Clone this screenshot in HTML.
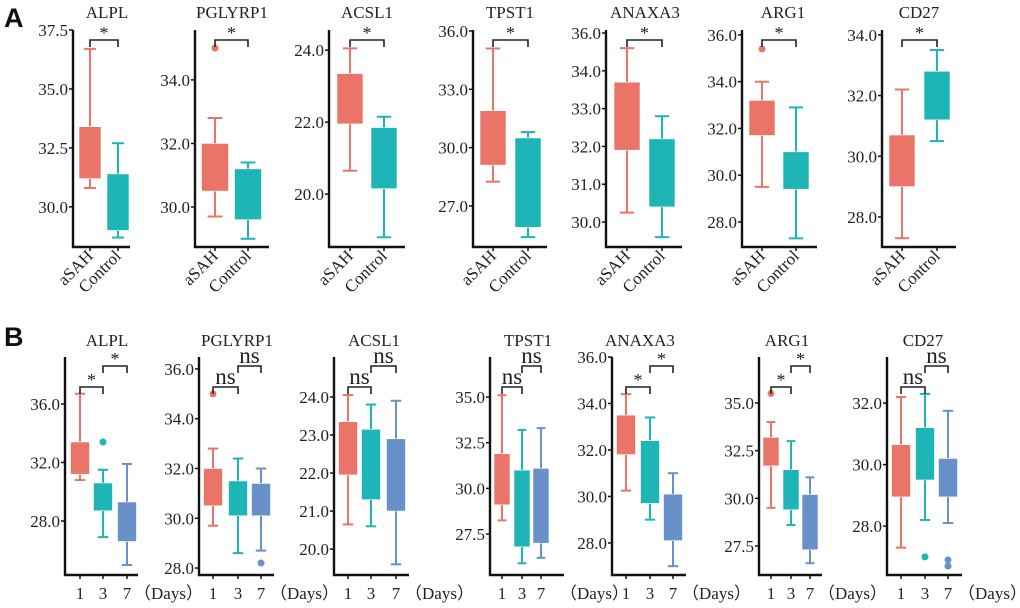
<!DOCTYPE html>
<html><head><meta charset="utf-8">
<style>
html,body{margin:0;padding:0;background:#fff;}
svg{display:block;}
text{font-family:"Liberation Serif",serif;fill:#222;}
</style></head>
<body>
<svg id="fig" width="1020" height="608" viewBox="0 0 1020 608" xmlns="http://www.w3.org/2000/svg">
<text x="4" y="27" font-family="Liberation Sans, sans-serif" style="font-family:'Liberation Sans',sans-serif;font-weight:bold;font-size:27px;fill:#111">A</text>
<text x="4" y="346" font-family="Liberation Sans, sans-serif" style="font-family:'Liberation Sans',sans-serif;font-weight:bold;font-size:27px;fill:#111">B</text>
</svg>
<script>
// ---------- DATA ----------
const genes = ['ALPL','PGLYRP1','ACSL1','TPST1','ANAXA3','ARG1','CD27'];
const groupsA = ['aSAH','Control'];
const groupsB = ['1','3','7'];
const aTickValues = [[37.5,35,32.5,30],[34,32,30],[24,22,20],[36,33,30,27],[35,34,33,32,31,30],[36,34,32,30,28],[34,32,30,28]];
const aTickLabels = [['37.5','35.0','32.5','30.0'],['34.0','32.0','30.0'],['24.0','22.0','20.0'],['36.0','33.0','30.0','27.0'],['36.0','34.0','33.0','32.0','31.0','30.0'],['36.0','34.0','32.0','30.0','28.0'],['34.0','32.0','30.0','28.0']];
const aDomain = [[28.30,37.5],[28.74,35.57],[18.53,24.56],[24.89,36.05],[29.34,35.08],[26.93,36.21],[27.01,34.16]];
const aWhiskerLow = [[30.8,28.7],[29.7,29.0],[20.65,18.8],[28.25,25.4],[30.25,29.6],[29.5,27.3],[27.3,30.5]];
const aQ1 = [[31.2,29.0],[30.5,29.6],[21.95,20.15],[29.1,25.9],[31.9,30.4],[31.7,29.4],[29.0,31.2]];
const aQ3 = [[33.4,31.4],[32.0,31.2],[23.35,21.85],[31.9,30.5],[33.7,32.2],[33.2,31.0],[30.7,32.8]];
const aWhiskerHigh = [[36.7,32.7],[32.8,31.4],[24.05,22.15],[35.1,30.8],[34.6,32.8],[34.0,32.9],[32.2,33.5]];
const aOutliers = [[[],[]],[[35.0],[]],[[],[]],[[],[]],[[],[]],[[35.4],[]],[[],[]]];
const aSig = ['*','*','*','*','*','*','*'];
const bTickValues = [[36,32,28],[36,34,32,30,28],[24,23,22,21,20],[35,32.5,30,27.5],[36,34,32,30,28],[35,32.5,30,27.5],[32,30,28]];
const bTickLabels = [['36.0','32.0','28.0'],['36.0','34.0','32.0','30.0','28.0'],['24.0','23.0','22.0','21.0','20.0'],['35.0','32.5','30.0','27.5'],['36.0','34.0','32.0','30.0','28.0'],['35.0','32.5','30.0','27.5'],['32.0','30.0','28.0']];
const bDomain = [[24.31,39.21],[27.72,36.48],[19.32,25.05],[25.26,37.19],[26.62,36.0],[25.98,37.41],[26.41,33.5]];
const bWhiskerLow = [[30.8,26.9,25.0],[29.7,28.6,28.7],[20.65,20.6,19.6],[28.25,25.9,26.2],[30.25,29.0,27.0],[29.5,28.6,26.6],[27.3,28.2,28.1]];
const bQ1 = [[31.2,28.7,26.6],[30.5,30.1,30.1],[21.95,21.3,21.0],[29.1,26.8,27.0],[31.8,29.7,28.1],[31.7,29.4,27.3],[28.95,29.5,28.95]];
const bQ3 = [[33.4,30.6,29.3],[32.0,31.5,31.4],[23.35,23.15,22.9],[31.9,31.0,31.1],[33.5,32.4,30.1],[33.2,31.5,30.2],[30.65,31.2,30.2]];
const bWhiskerHigh = [[36.7,31.5,31.9],[32.8,32.4,32.0],[24.05,23.8,23.9],[35.1,33.2,33.3],[34.4,33.4,31.0],[34.0,33.0,31.1],[32.2,32.3,31.75]];
const bOutliers = [[[],[33.4],[]],[[35.0],[],[28.2]],[[],[],[]],[[],[],[]],[[],[],[]],[[35.5],[],[]],[[],[27.0],[26.9,26.7]]];
const bSig1 = ['*','ns','ns','ns','*','*','ns'];
const bSig2 = ['*','ns','ns','ns','*','*','ns'];

// ---------- LAYOUT ----------
const colors = ['#EA7468','#1DB5B6','#6890C9'];
const SERIF = 'Liberation Serif, serif';
const layoutA = {top:30,bottom:247,panels:[
 {ax:73,right:130,c:[90,118],bw:22,tx:107},{ax:195,right:269,c:[215,248],bw:27,tx:232},
 {ax:329,right:405,c:[350,384],bw:26,tx:367},{ax:473,right:547,c:[493,528],bw:26,tx:510},
 {ax:606,right:682,c:[627,662],bw:26,tx:645},{ax:742,right:817,c:[762,796],bw:26,tx:783},
 {ax:882,right:956,c:[902,937],bw:26,tx:919}]};
const layoutB = {top:357,bottom:575,panels:[
 {ax:65,right:138,c:[80,103,127],bw:19,tx:107},{ax:199,right:274,c:[213,238,261],bw:19,tx:237},
 {ax:334,right:409,c:[348,371,396],bw:19,tx:374},{ax:490,right:564,c:[502,522,541],bw:16,tx:528},
 {ax:612,right:686,c:[626,650,673],bw:19,tx:640},{ax:759,right:822,c:[771,791,810],bw:16,tx:787},
 {ax:887,right:962,c:[901,925,948],bw:19,tx:923}]};

const NS='http://www.w3.org/2000/svg';
const svg=document.getElementById('fig');
function mk(tag,attrs,parent){const e=document.createElementNS(NS,tag);for(const k in attrs)e.setAttribute(k,attrs[k]);(parent||svg).appendChild(e);return e;}
function yScale(dom,top,bottom){return v=>bottom-(v-dom[0])/(dom[1]-dom[0])*(bottom-top);}

function drawBox(g,x,bw,y,lo,q1,q3,hi,outs,col){
  const cap=bw*0.55;
  const w=mk('line',{x1:x,x2:x,y1:y(hi),y2:y(lo),stroke:col,'stroke-width':2},g);
  
  
  [hi,lo].forEach(v=>{const c=mk('line',{x1:x-cap/2,x2:x+cap/2,y1:y(v),y2:y(v),stroke:col,'stroke-width':2},g);
    
    });
  const r=mk('rect',{x:x-bw/2,y:y(q3),width:bw,height:y(q1)-y(q3),fill:col,stroke:'#fff','stroke-width':0.6},g);
  
  
  outs.forEach(v=>{const o=mk('circle',{cx:x,cy:y(v),r:3.5,fill:col},g);
    
    });
}
function bracket(g,x1,x2,yb,label){
  const p=mk('path',{d:`M${x1},${yb+7}V${yb}H${x2}V${yb+7}`,fill:'none',stroke:'#222','stroke-width':1.6},g);
  
  
  const isStar=label==='*';
  const t=mk('text',{x:(x1+x2)/2,y:isStar?yb-1:yb-3,'text-anchor':'middle','font-size':isStar?18:23,'font-family':SERIF},g);
  t.textContent=label;
  
  
}
function axes(g,L,p,ticks,labels,y){
  const a=mk('path',{d:`M${p.ax},${L.top}V${L.bottom}H${p.right}`,fill:'none',stroke:'#111','stroke-width':2.4},g);
  
  
  ticks.forEach((v,i)=>{
    const tk=mk('line',{x1:p.ax-4,x2:p.ax,y1:y(v),y2:y(v),stroke:'#111','stroke-width':1.5},g);
    
    
    const t=mk('text',{x:p.ax-5,y:y(v)+6,'text-anchor':'end','font-size':17,'font-family':SERIF},g);
    t.textContent=labels[i];
    
    
  });
  p.c.forEach(cx=>{const tk=mk('line',{x1:cx,x2:cx,y1:L.bottom,y2:L.bottom+4,stroke:'#111','stroke-width':1.5},g);
    
    });
}

genes.forEach((gn,i)=>{
  const p=layoutA.panels[i];
  const g=mk('g',{});
  
  
  const y=yScale(aDomain[i],layoutA.top,layoutA.bottom);
  axes(g,layoutA,p,aTickValues[i],aTickLabels[i],y);
  const t=mk('text',{x:p.tx,y:18,'text-anchor':'middle','font-size':17,'font-family':SERIF},g);
  t.textContent=gn;
  
  
  groupsA.forEach((gr,j)=>{
    drawBox(g,p.c[j],p.bw,y,aWhiskerLow[i][j],aQ1[i][j],aQ3[i][j],aWhiskerHigh[i][j],aOutliers[i][j],colors[j]);
    const lx=p.c[j]+4, ly=layoutA.bottom+10;
    const l=mk('text',{x:lx,y:ly,'text-anchor':'end','font-size':17,'font-family':SERIF,transform:`rotate(-45 ${lx} ${ly})`},g);
    l.textContent=gr;
    
    
  });
  bracket(g,p.c[0],p.c[1],40,aSig[i]);
});

genes.forEach((gn,i)=>{
  const p=layoutB.panels[i];
  const g=mk('g',{});
  
  
  const y=yScale(bDomain[i],layoutB.top,layoutB.bottom);
  axes(g,layoutB,p,bTickValues[i],bTickLabels[i],y);
  const t=mk('text',{x:p.tx,y:346,'text-anchor':'middle','font-size':17,'font-family':SERIF},g);
  t.textContent=gn;
  
  
  groupsB.forEach((gr,j)=>{
    drawBox(g,p.c[j],p.bw,y,bWhiskerLow[i][j],bQ1[i][j],bQ3[i][j],bWhiskerHigh[i][j],bOutliers[i][j],colors[j]);
    const l=mk('text',{x:p.c[j],y:599,'text-anchor':'middle','font-size':17,'font-family':SERIF},g);
    l.textContent=gr;
    
    
  });
  const d=mk('text',{x:p.right-4,y:599,'font-size':17,'font-family':'Liberation Serif, Noto Serif CJK SC, serif'},g);
  d.textContent='（Days）';
  
  
  bracket(g,p.c[0],p.c[1],387,bSig1[i]);
  bracket(g,p.c[1],p.c[2],366,bSig2[i]);
});
</script>
</body></html>
